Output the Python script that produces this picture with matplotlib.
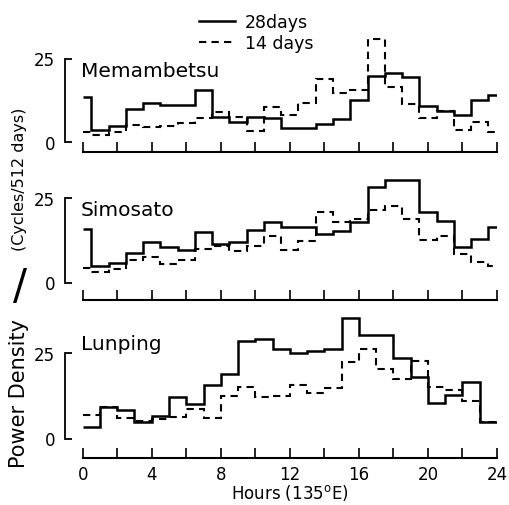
import matplotlib
matplotlib.use("Agg")
import matplotlib.pyplot as plt
from matplotlib.lines import Line2D

# hourly values, hours 0..24 (bins centred on the hour)
mem_28 = [13.5, 3.8, 4.8, 10.0, 11.8, 11.2, 11.2, 15.5, 7.5, 6.2, 7.5, 7.2, 4.2,
          4.2, 5.5, 7.0, 12.5, 19.8, 20.7, 19.5, 10.8, 9.5, 8.2, 12.5, 14.0]
mem_14 = [3.0, 2.2, 3.0, 5.2, 4.5, 4.8, 5.8, 7.2, 9.0, 7.5, 3.5, 10.5, 8.2,
          11.8, 19.0, 14.8, 15.5, 30.9, 16.5, 11.5, 7.2, 9.5, 3.8, 6.0, 3.0]
sim_28 = [15.9, 5.0, 5.7, 8.9, 11.9, 10.4, 9.6, 15.1, 11.4, 12.1, 15.6, 17.9, 16.4,
          16.4, 14.4, 15.4, 18.1, 28.3, 30.3, 30.3, 21.0, 18.4, 10.6, 12.9, 16.4]
sim_14 = [4.2, 3.0, 4.0, 6.7, 7.7, 5.5, 6.7, 9.9, 10.7, 9.4, 10.9, 13.9, 9.7,
          12.4, 21.0, 18.1, 18.8, 21.6, 22.6, 18.8, 12.7, 13.7, 8.4, 6.0, 5.0]
# Lunping: hourly bins on whole hours 0..24
lun_28 = [3.5, 9.2, 8.5, 4.7, 6.5, 12.3, 10.1, 15.6, 18.9, 28.6, 29.1, 26.3,
          25.0, 25.7, 26.4, 35.5, 30.3, 30.3, 23.5, 17.9, 10.4, 12.7, 16.6, 4.9]
lun_14 = [6.8, 9.1, 5.9, 5.2, 5.7, 6.2, 8.6, 5.9, 12.5, 15.2, 12.1, 12.5,
          15.6, 13.4, 14.7, 22.5, 26.4, 20.5, 17.4, 22.8, 15.2, 14.3, 11.0, 4.9]

stations = ["Memambetsu", "Simosato", "Lunping"]
half_edges = [0] + [h + 0.5 for h in range(24)] + [24]
whole_edges = list(range(25))

W, H = 510, 506
fig = plt.figure(figsize=(W / 100, H / 100), dpi=100)

# pixel layout: (zero level, value-25 level, tick line)
layout = [(143.4, 59.5, 152.7), (283.5, 199.3, 300.7), (439.5, 354.3, 459.3)]
x0, x24 = 82.7, 497.0
ytop = 37
dash = (0, (3.5, 2.5))

series = [(mem_28, mem_14, half_edges), (sim_28, sim_14, half_edges),
          (lun_28, lun_14, whole_edges)]

axes = []
for i, ((y0, y25, ybot), (s28, s14, edges)) in enumerate(zip(layout, series)):
    ppu = (y0 - y25) / 25.0
    lo = -(ybot - y0) / ppu
    top_px = y0 - ytop * ppu
    ax = fig.add_axes([x0 / W, 1 - ybot / H, (x24 - x0) / W, (ybot - top_px) / H])
    ax.set_xlim(0, 24)
    ax.set_ylim(lo, ytop)
    ax.patch.set_alpha(0)

    ax.stairs(s28, edges, baseline=None, color="black", lw=1.8)
    ax.stairs(s14, edges, baseline=None, color="black", lw=1.5, linestyle=dash)

    for sp in ["top", "right"]:
        ax.spines[sp].set_visible(False)
    ax.spines["left"].set_bounds(0, 25)
    ax.spines["left"].set_position(("outward", (x0 - 65) * 0.72))
    ax.spines["left"].set_linewidth(1.3)
    ax.spines["bottom"].set_linewidth(1.5)
    ax.set_yticks([0, 25])
    ax.set_xticks(range(0, 25, 2))
    ax.tick_params(axis="y", direction="in", length=5, width=1.3,
                   labelsize=12, pad=7)
    ax.tick_params(axis="x", direction="in", length=7, width=1.2,
                   labelsize=12, pad=5)
    if i < 2:
        ax.set_xticklabels([])
    else:
        ax.set_xticklabels([str(h) if h % 4 == 0 else "" for h in range(0, 25, 2)])
    axes.append(ax)

fig.text((x0 + x24) / 2 / W, 1 - 493 / H, "Hours (135$^{\\mathregular{o}}$E)",
         fontsize=12, ha="center", va="center")

# station names
name_base = [77, 216.5, 350]
for name, yb in zip(stations, name_base):
    fig.text(81 / W, 1 - yb / H, name, fontsize=14.5, ha="left", va="baseline")

# legend
handles = [Line2D([], [], color="black", lw=1.8),
           Line2D([], [], color="black", lw=1.5, linestyle=dash)]
fig.legend(handles, ["28days", "14 days"], loc="upper left",
           bbox_to_anchor=(199 / W, 1 - 14 / H), frameon=False, fontsize=12.5,
           handlelength=2.1, handletextpad=0.55, labelspacing=0.2,
           borderpad=0, borderaxespad=0)

# y label with large slash
fig.text(19 / W, 1 - 468 / H, "Power Density", rotation=90, fontsize=15,
         ha="center", va="bottom")
fig.text(20 / W, 1 - 287 / H, "/", fontsize=30, ha="center", va="center")
fig.text(20 / W, 1 - 108 / H, "(Cycles/512 days)", rotation=90, fontsize=11.5,
         ha="center", va="top")

fig.savefig("out.png", dpi=100)
